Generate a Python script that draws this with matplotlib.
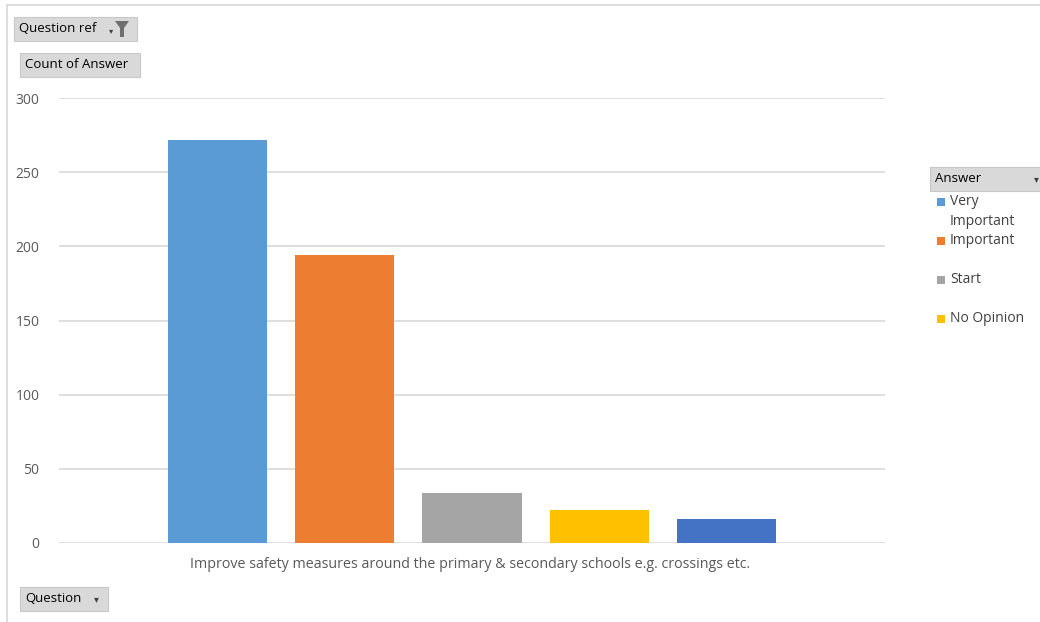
import matplotlib
matplotlib.use("Agg")
import matplotlib.pyplot as plt
from matplotlib.patches import Rectangle, Polygon

plt.rcParams['font.family'] = ['Open Sans', 'DejaVu Sans']

category = "Improve safety measures around the primary & secondary schools e.g. crossings etc."
series_names = ["Very Important", "Important", "Start", "No Opinion", "Not Important"]
values = [272, 194, 34, 22, 16]
colors = ["#5B9BD5", "#ED7D31", "#A5A5A5", "#FFC000", "#4472C4"]
legend_labels = ["Very\nImportant", "Important", "Start", "No Opinion"]
yticks = [0, 50, 100, 150, 200, 250, 300]

W, H = 1040, 622
fig = plt.figure(figsize=(W / 100, H / 100), dpi=100)
fig.patch.set_facecolor("white")

def fx(px):
    return px / W

def fy(py):
    return 1 - py / H

# outer chart border (top and left visible)
fig.add_artist(plt.Line2D([fx(7), fx(7)], [fy(5), fy(622)], color="#d9d9d9", lw=1.2, transform=fig.transFigure))
fig.add_artist(plt.Line2D([fx(7), fx(1040)], [fy(5), fy(5)], color="#d9d9d9", lw=1.2, transform=fig.transFigure))

ax = fig.add_axes([fx(59), fy(543), fx(885) - fx(59), fy(98) - fy(543)])
positions = list(range(len(values)))
ax.bar(positions, values, width=0.78, color=colors, zorder=3)
ax.set_xlim(-1.25, 5.25)
ax.set_ylim(0, 300)
ax.set_yticks(yticks)
ax.set_yticklabels([str(t) for t in yticks], color="#595959", fontsize=10)
ax.tick_params(axis="y", length=0, pad=14)
ax.set_xticks([])
for s in ax.spines.values():
    s.set_visible(False)
ax.yaxis.grid(True, color="#d9d9d9", lw=1.2, zorder=0)
ax.set_axisbelow(True)

fig.text(fx(470), fy(565), category, ha="center", va="center", fontsize=10.3, color="#595959")

def button(x0, y0, x1, y1, label, arrow=None):
    fig.add_artist(Rectangle((fx(x0), fy(y1)), fx(x1) - fx(x0), fy(y0) - fy(y1),
                             transform=fig.transFigure, facecolor="#d9d9d9",
                             edgecolor="#c8c8c8", lw=0.8))
    fig.text(fx(x0 + 5), fy((y0 + y1) / 2), label, ha="left", va="center",
             fontsize=9.5, color="#000000")
    if arrow:
        fig.text(fx(arrow), fy((y0 + y1) / 2 + 1), "\u25BE", ha="center", va="center",
                 fontsize=7, color="#404040")

button(14, 17, 137, 41, "Question ref", arrow=None)
fig.text(fx(111), fy(32), "\u25BE", ha="center", va="center", fontsize=6, color="#404040")
# funnel icon
funnel = [(115, 21), (129, 21), (124, 28), (124, 37), (120, 37), (120, 28)]
fig.add_artist(Polygon([(fx(a), fy(b)) for a, b in funnel], closed=True,
                       transform=fig.transFigure, facecolor="#6f6f6f", edgecolor="none"))
button(20, 53, 140, 77, "Count of Answer")
button(20, 587, 108, 611, "Question", arrow=96)
button(930, 167, 1045, 191, "Answer", arrow=1036)

legend_y = [202, 241, 280, 319]
for lab, c, ly in zip(legend_labels, colors, legend_y):
    fig.add_artist(Rectangle((fx(937), fy(ly + 4)), fx(8), fy(0) - fy(8),
                             transform=fig.transFigure, facecolor=c, edgecolor="none"))
    fig.text(fx(950), fy(ly - 8), lab, ha="left", va="top", fontsize=10,
             color="#404040", linespacing=1.45)

fig.savefig("out.png", dpi=100)
